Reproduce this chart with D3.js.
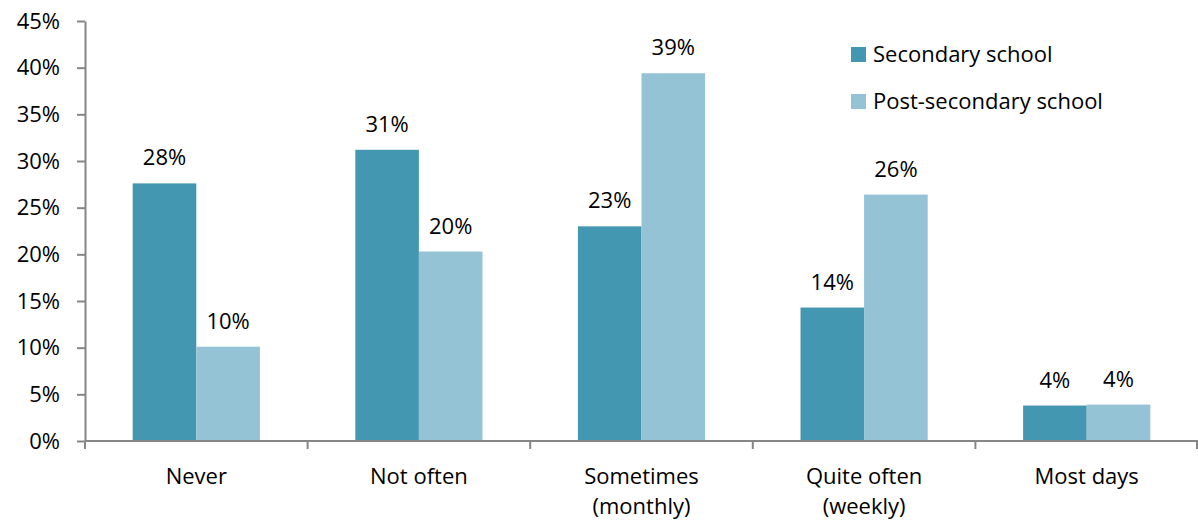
<!DOCTYPE html>
<html><head><meta charset="utf-8">
<script src="https://cdn.jsdelivr.net/npm/d3@7"></script>
<style>body{margin:0;background:#fff}svg{display:block}text{font-family:"Open Sans",sans-serif;fill:#000}</style>
</head><body><svg id="c" width="1198" height="522"></svg>
<script>
const categories = [["Never"],["Not often"],["Sometimes","(monthly)"],["Quite often","(weekly)"],["Most days"]];
const seriesNames = ["Secondary school","Post-secondary school"];
const secondary = [27.6, 31.2, 23.0, 14.3, 3.8];
const postSecondary = [10.1, 20.3, 39.4, 26.4, 3.9];
const labelsSecondary = ["28%","31%","23%","14%","4%"];
const labelsPost = ["10%","20%","39%","26%","4%"];
const yTicks = [0,5,10,15,20,25,30,35,40,45];
const colors = ["#4397b0","#93c3d5"];

(function(){
const FS = 22, FF = "'Open Sans',sans-serif";
const svg = d3.select("#c");
const mLeft = 85, mRight = 1198, mTop = 21, mBottom = 441;
const x = d3.scaleBand().domain(d3.range(categories.length)).range([mLeft,mRight]).paddingInner(0).paddingOuter(0);
const xs = d3.scaleBand().domain([0,1]).range([0,x.bandwidth()]).paddingInner(0).paddingOuter(0.75);
const y = d3.scaleLinear().domain([0,45]).range([mBottom,mTop]);

const series = [secondary, postSecondary];
const labels = [labelsSecondary, labelsPost];
series.forEach((vals,si)=>{
  svg.append("g").selectAll("rect").data(vals).join("rect")
    .attr("x",(d,i)=>x(i)+xs(si)).attr("width",xs.bandwidth())
    .attr("y",d=>y(d)).attr("height",d=>y(0)-y(d)).attr("fill",colors[si]);
  svg.append("g").selectAll("text").data(vals).join("text")
    .attr("x",(d,i)=>x(i)+xs(si)+xs.bandwidth()/2).attr("y",d=>y(d)-18)
    .attr("text-anchor","middle").attr("font-size",FS).text((d,i)=>labels[si][i]);
});

const ya = svg.append("g").attr("transform",`translate(${mLeft},0)`)
  .call(d3.axisLeft(y).tickValues(yTicks).tickFormat(d=>d+"%").tickSize(8).tickSizeOuter(0).tickPadding(17));
ya.select(".domain").attr("stroke","#868686").attr("stroke-width",2);
ya.selectAll(".tick line").attr("stroke","#868686").attr("stroke-width",2);
ya.selectAll(".tick text").attr("font-size",FS).attr("font-family",FF).attr("fill","#000");

const xa = svg.append("g").attr("transform",`translate(0,${mBottom})`);
xa.append("line").attr("x1",mLeft).attr("x2",mRight).attr("stroke","#868686").attr("stroke-width",2);
const bounds = d3.range(categories.length+1).map(i=> i<categories.length ? x(i) : mRight-1);
xa.selectAll("line.t").data(bounds).join("line").attr("class","t")
  .attr("x1",d=>d).attr("x2",d=>d).attr("y1",0).attr("y2",8).attr("stroke","#868686").attr("stroke-width",2);
categories.forEach((lines,i)=>{
  const cx = x(i)+x.bandwidth()/2;
  const t = xa.append("text").attr("text-anchor","middle").attr("font-size",FS).attr("x",cx).attr("y",43);
  lines.forEach((l,j)=>t.append("tspan").attr("x",cx).attr("dy",j?30:0).text(l));
});

const lg = svg.append("g").attr("transform","translate(851,47)");
seriesNames.forEach((n,i)=>{
  lg.append("rect").attr("x",0).attr("y",i*47).attr("width",15).attr("height",15).attr("fill",colors[i]);
  lg.append("text").attr("x",22).attr("y",i*47+15).attr("font-size",FS).text(n);
});
})();
</script></body></html>
